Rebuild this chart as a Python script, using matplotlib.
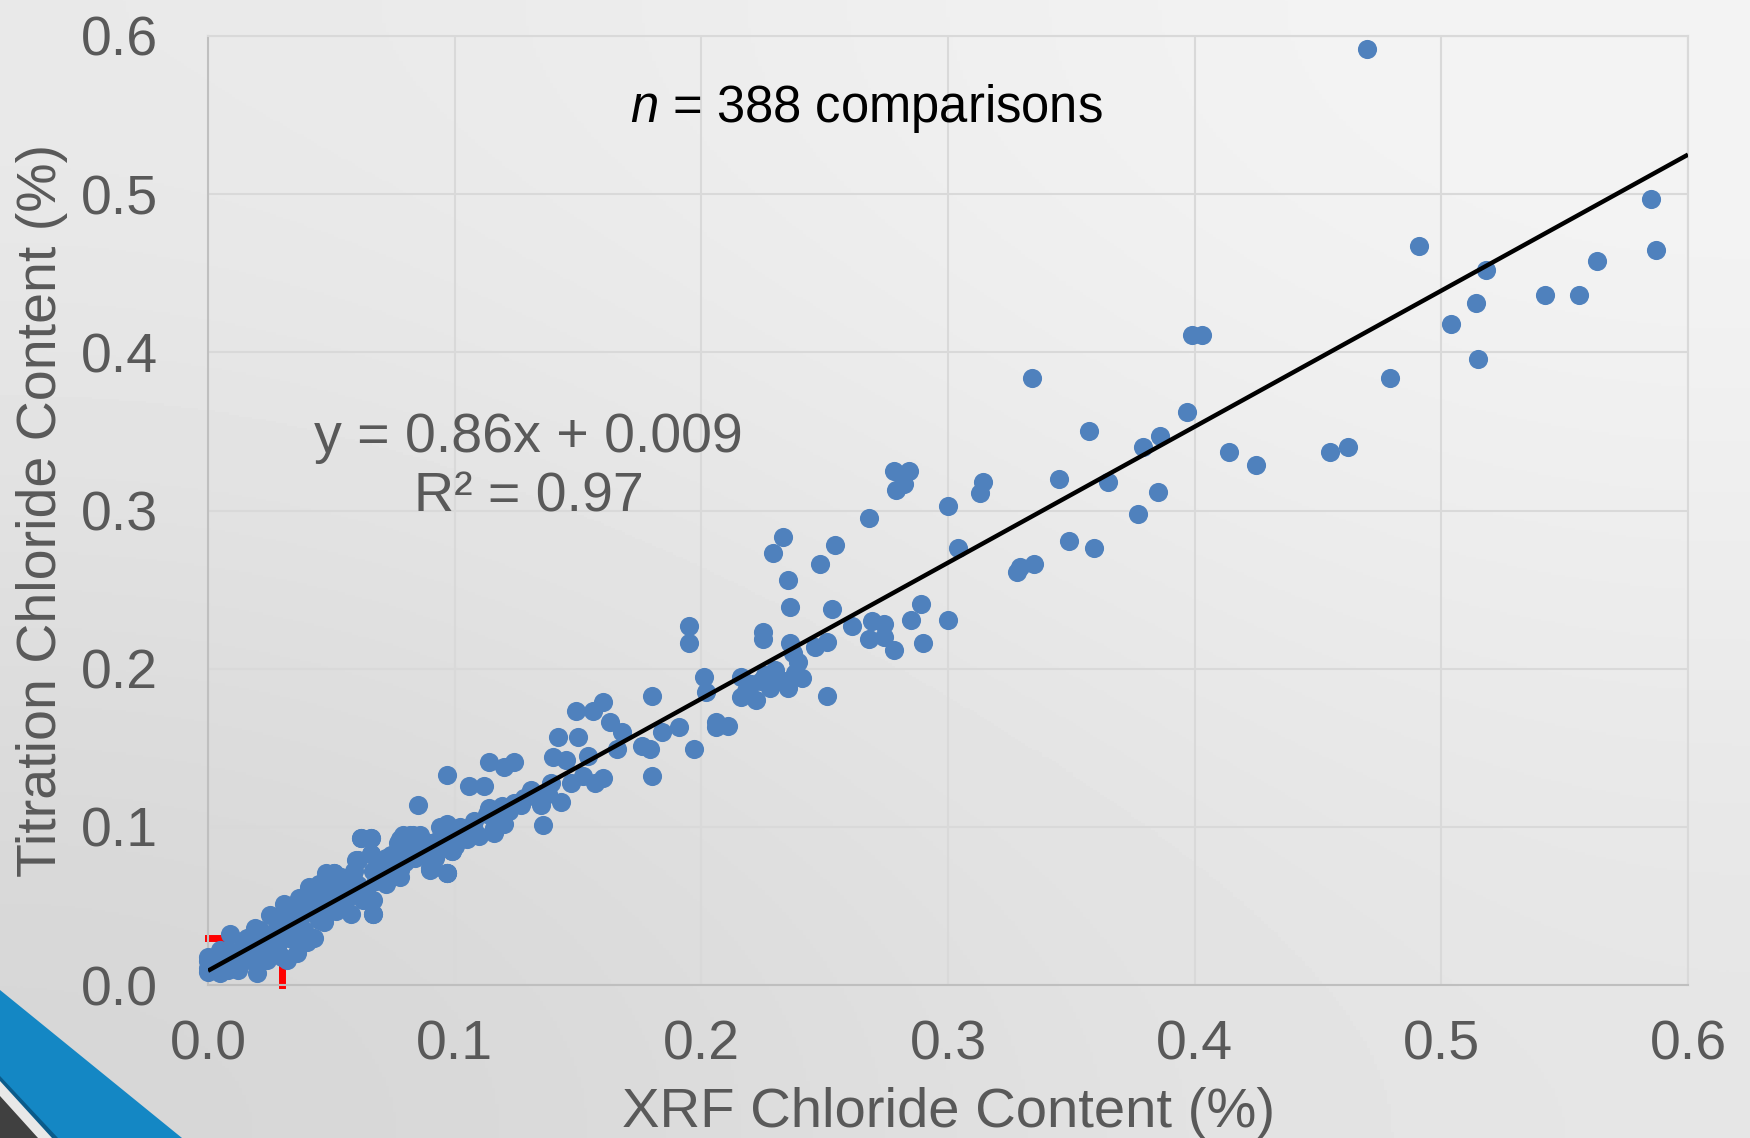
import numpy as np
import matplotlib
matplotlib.use("Agg")
import matplotlib.pyplot as plt
from matplotlib.patches import Polygon

# XRF vs titration chloride content (%)
xrf = [
    0.470, 0.585, 0.587, 0.491, 0.518, 0.563, 0.514, 0.504, 0.542, 0.556,
    0.515, 0.479, 0.399, 0.403, 0.334, 0.397, 0.357, 0.386, 0.379, 0.414,
    0.425, 0.455, 0.462, 0.345, 0.365, 0.385, 0.377, 0.278, 0.284, 0.279,
    0.282, 0.314, 0.313, 0.300, 0.268, 0.304, 0.349, 0.359, 0.328, 0.329,
    0.335, 0.233, 0.229, 0.254, 0.248, 0.235, 0.236, 0.253, 0.289, 0.300,
    0.285, 0.261, 0.269, 0.274, 0.268, 0.274, 0.278, 0.290, 0.195, 0.195,
    0.225, 0.225, 0.236, 0.251, 0.246, 0.239, 0.241, 0.235, 0.228, 0.224,
    0.230, 0.201, 0.202, 0.216, 0.216, 0.222, 0.251, 0.180, 0.184, 0.191,
    0.206, 0.211, 0.206, 0.197, 0.176, 0.179, 0.180,
    0.226, 0.232, 0.238, 0.220, 0.237, 0.233, 0.218,
    0.160, 0.156, 0.149, 0.163, 0.168, 0.166, 0.142, 0.150, 0.140, 0.145,
    0.154, 0.139, 0.147, 0.152, 0.157, 0.160, 0.143, 0.136, 0.133, 0.135,
    0.124, 0.120, 0.114, 0.112, 0.106, 0.097, 0.085, 0.114, 0.119, 0.124,
    0.127, 0.120, 0.116, 0.110, 0.105, 0.099, 0.097, 0.102, 0.094, 0.097,
    0.091, 0.090, 0.086, 0.082, 0.079, 0.077, 0.083, 0.074, 0.066, 0.062,
    0.061, 0.066, 0.078, 0.071, 0.051, 0.058,
    0.130, 0.128, 0.117, 0.108, 0.113, 0.122, 0.103, 0.095, 0.088, 0.092,
    0.100, 0.108, 0.131, 0.138,
    0.118, 0.116, 0.099, 0.097, 0.090, 0.093, 0.085, 0.079, 0.078, 0.072,
    0.067, 0.067,
    0.000, 0.001, 0.008, 0.009, 0.014, 0.020, 0.019, 0.025, 0.031, 0.037,
    0.041, 0.045, 0.051, 0.043, 0.036, 0.030, 0.026, 0.058, 0.048, 0.067,
    0.060, 0.062, 0.066, 0.066, 0.070, 0.074, 0.078, 0.083, 0.085, 0.090,
    0.097, 0.091, 0.097, 0.078, 0.072, 0.067, 0.056, 0.051, 0.045, 0.037,
    0.033, 0.024, 0.017, 0.010, 0.005, 0.014, 0.029, 0.041, 0.054, 0.059,
    0.063, 0.048, 0.044, 0.033, 0.021, 0.028, 0.040, 0.002, 0.000, 0.005,
    0.012, 0.024, 0.032,
    0.000, 0.000, 0.003, 0.006, 0.010, 0.015, 0.018, 0.022, 0.027, 0.030,
    0.035, 0.038, 0.042, 0.046, 0.050, 0.053, 0.057, 0.061, 0.064, 0.068,
    0.072, 0.076, 0.080, 0.084, 0.088, 0.093, 0.098, 0.101, 0.035, 0.039,
    0.047, 0.052, 0.055, 0.023, 0.019, 0.011, 0.008, 0.016, 0.020, 0.028,
    0.034, 0.039, 0.043, 0.049, 0.054, 0.059,
]
titration = [
    0.592, 0.497, 0.465, 0.467, 0.452, 0.458, 0.431, 0.418, 0.436, 0.436,
    0.396, 0.384, 0.411, 0.411, 0.384, 0.362, 0.350, 0.347, 0.340, 0.337,
    0.329, 0.337, 0.340, 0.320, 0.318, 0.312, 0.298, 0.325, 0.325, 0.313,
    0.317, 0.318, 0.311, 0.303, 0.295, 0.276, 0.281, 0.276, 0.261, 0.264,
    0.266, 0.283, 0.273, 0.278, 0.266, 0.256, 0.239, 0.238, 0.241, 0.231,
    0.231, 0.227, 0.230, 0.228, 0.219, 0.220, 0.212, 0.216, 0.227, 0.216,
    0.223, 0.219, 0.216, 0.217, 0.214, 0.204, 0.194, 0.188, 0.188, 0.192,
    0.199, 0.195, 0.185, 0.195, 0.182, 0.180, 0.183, 0.183, 0.160, 0.163,
    0.166, 0.164, 0.163, 0.149, 0.151, 0.149, 0.132,
    0.196, 0.193, 0.197, 0.190, 0.210, 0.192, 0.186,
    0.179, 0.173, 0.173, 0.166, 0.160, 0.149, 0.157, 0.157, 0.144, 0.142,
    0.145, 0.128, 0.128, 0.132, 0.128, 0.131, 0.116, 0.101, 0.119, 0.114,
    0.141, 0.138, 0.141, 0.126, 0.126, 0.133, 0.114, 0.112, 0.113, 0.115,
    0.114, 0.102, 0.096, 0.094, 0.092, 0.085, 0.101, 0.100, 0.100, 0.071,
    0.074, 0.090, 0.095, 0.095, 0.095, 0.090, 0.083, 0.082, 0.093, 0.093,
    0.079, 0.083, 0.073, 0.074, 0.071, 0.068,
    0.120, 0.118, 0.105, 0.098, 0.108, 0.110, 0.095, 0.093, 0.085, 0.080,
    0.088, 0.104, 0.123, 0.121,
    0.105, 0.099, 0.085, 0.071, 0.073, 0.088, 0.092, 0.093, 0.086, 0.080,
    0.072, 0.045,
    0.018, 0.012, 0.0095, 0.032, 0.016, 0.0075, 0.036, 0.044, 0.051, 0.055,
    0.062, 0.064, 0.071, 0.030, 0.020, 0.018, 0.020, 0.045, 0.045, 0.045,
    0.079, 0.093, 0.093, 0.083, 0.073, 0.081, 0.092, 0.095, 0.089, 0.074,
    0.071, 0.081, 0.102, 0.068, 0.064, 0.054, 0.054, 0.051, 0.041, 0.037,
    0.030, 0.030, 0.024, 0.020, 0.022, 0.028, 0.041, 0.049, 0.062, 0.066,
    0.054, 0.071, 0.056, 0.047, 0.035, 0.024, 0.027, 0.014, 0.011, 0.0075,
    0.0095, 0.016, 0.016,
    0.015, 0.008, 0.010, 0.013, 0.012, 0.020, 0.018, 0.022, 0.028, 0.033,
    0.040, 0.044, 0.046, 0.050, 0.058, 0.060, 0.058, 0.063, 0.060, 0.066,
    0.070, 0.074, 0.078, 0.080, 0.088, 0.091, 0.094, 0.097, 0.030, 0.035,
    0.040, 0.047, 0.050, 0.026, 0.014, 0.017, 0.022, 0.030, 0.028, 0.036,
    0.046, 0.052, 0.058, 0.064, 0.068, 0.072,
]

slope = 0.86
intercept = 0.009
ticks = [0.0, 0.1, 0.2, 0.3, 0.4, 0.5, 0.6]
tick_labels = ["0.0", "0.1", "0.2", "0.3", "0.4", "0.5", "0.6"]
x_title = "XRF Chloride Content (%)"
y_title = "Titration Chloride Content (%)"
n_note = r"$n$ = 388 comparisons"
fit_note = "y = 0.86x + 0.009\nR² = 0.97"

plt.rcParams['font.family'] = ['Liberation Sans', 'DejaVu Sans']
plt.rcParams['mathtext.fontset'] = 'custom'
plt.rcParams['mathtext.rm'] = 'Liberation Sans'
plt.rcParams['mathtext.it'] = 'Liberation Sans:italic'

W, H = 1750, 1138
grey_text = '#595959'
fig = plt.figure(figsize=(W / 100, H / 100), dpi=100)

# slide-like gradient background
bg = fig.add_axes([0, 0, 1, 1], zorder=-10)
bg.imshow([[0.915, 0.960], [0.835, 0.900]], cmap='gray', vmin=0, vmax=1,
          interpolation='bicubic', extent=[0, 1, 0, 1], aspect='auto')
bg.axis('off')


def fpx(px, py):
    return (px / W, 1 - py / H)


# corner decoration
fig.patches.append(Polygon([fpx(0, 990), fpx(182, 1138), fpx(0, 1138)],
                           transform=fig.transFigure, color='#1487c4', lw=0))
fig.patches.append(Polygon([fpx(0, 1076), fpx(58, 1138), fpx(0, 1138)],
                           transform=fig.transFigure, color='#0b5b8a', lw=0))
fig.patches.append(Polygon([fpx(0, 1081), fpx(52, 1138), fpx(0, 1138)],
                           transform=fig.transFigure, color='#e8e8e8', lw=0))
fig.patches.append(Polygon([fpx(0, 1096), fpx(38, 1138), fpx(0, 1138)],
                           transform=fig.transFigure, color='#404040', lw=0))

ax = fig.add_axes([208 / W, 1 - 985 / H, (1688 - 208) / W, (985 - 36) / H])
ax.patch.set_visible(False)
ax.set_xlim(0, 0.6)
ax.set_ylim(0, 0.6)
ax.set_xticks(ticks)
ax.set_xticklabels(tick_labels)
ax.set_yticks(ticks)
ax.set_yticklabels(tick_labels)
ax.grid(True, color='#d9d9d9', lw=1.5)
ax.set_axisbelow(True)
for side in ['top', 'right']:
    ax.spines[side].set_color('#d9d9d9')
    ax.spines[side].set_linewidth(1.5)
for side in ['left', 'bottom']:
    ax.spines[side].set_color('#bfbfbf')
    ax.spines[side].set_linewidth(1.5)
ax.tick_params(axis='both', length=0, labelsize=40, labelcolor=grey_text)
ax.tick_params(axis='x', pad=25)
ax.tick_params(axis='y', pad=36)

# red guide marks at 0.03 %
ax.plot([0, 0.03], [0.03, 0.03], color='red', lw=5, zorder=2, clip_on=False)
ax.plot([0.03, 0.03], [0, 0.03], color='red', lw=5, zorder=2, clip_on=False)

ax.scatter(xrf, titration, s=190, c='#4F81BD', linewidths=0, zorder=3,
           clip_on=False)

xs = np.array([0.0, 0.6])
ax.plot(xs, slope * xs + intercept, color='black', lw=3.2, zorder=4,
        solid_capstyle='butt')

ax.text(0.267, 0.554, n_note, fontsize=36.5, color='black',
        ha='center', va='center')
ax.text(0.130, 0.327, fit_note, fontsize=40, color=grey_text,
        ha='center', va='center', multialignment='center', linespacing=1.2)

fig.text(949 / W, 1 - 1127 / H, x_title, fontsize=40.5, color=grey_text,
         ha='center', va='baseline')
fig.text(42 / W, 1 - 510 / H, y_title, fontsize=40, color=grey_text,
         ha='center', va='center', rotation=90)

fig.savefig('out.png', dpi=100)
